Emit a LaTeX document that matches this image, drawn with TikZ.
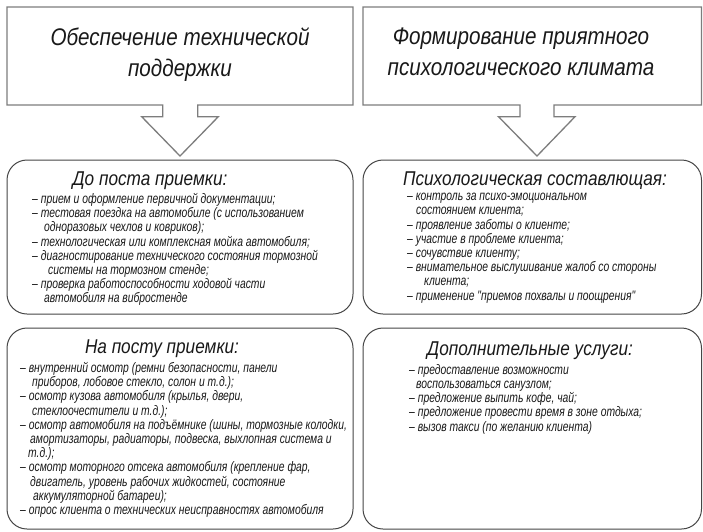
\documentclass[tikz,border=0pt]{standalone}
\usepackage{fontspec}
\setmainfont[FakeStretch=0.86]{Liberation Sans}
\newfontfamily\listfont[FakeStretch=0.75]{Liberation Sans}
\definecolor{topgray}{RGB}{125,125,125}
\definecolor{boxgray}{RGB}{70,70,70}
\definecolor{txt}{RGB}{25,25,25}
\begin{document}
\begin{tikzpicture}[x=1pt,y=-1pt,
  topbox/.style={draw=topgray, line width=1.3pt, line join=miter},
  roundbox/.style={draw=boxgray, line width=1pt, rounded corners=20pt},
  title/.style={font=\itshape\fontsize{24}{31}\selectfont, align=center, text=txt, inner sep=0pt},
  head/.style={font=\itshape\fontsize{20}{22}\selectfont, text=txt, inner sep=0pt},
  list/.style={font=\listfont\itshape\fontsize{13.8}{14.2}\selectfont, align=left, text=txt, inner sep=0pt, anchor=north west}]
\useasboundingbox (0,0) rectangle (703,531);
\fill[white] (0,0) rectangle (703,531);

% top boxes with block arrows
\coordinate (L) at (7,7);
\coordinate (R) at (363,7);
\draw[topbox] (7,105) -- (7,7) -- (353,7) -- (353,105) -- (197.7,105) -- (197.7,116.7) -- (218.3,116.7)
  -- (180,156) -- (141.7,116.7) -- (162.7,116.7) -- (162.7,105) -- cycle;
\draw[topbox] (363,105) -- (363,7) -- (701.5,7) -- (701.5,105) -- (554,105) -- (554,116.7) -- (575,116.7)
  -- (537,156) -- (498.5,116.7) -- (520,116.7) -- (520,105) -- cycle;

\node[title] (t1) at (180,55) {Обеспечение технической\\поддержки};
\node[title] (t2) at (521,52) {Формирование приятного\\психологического климата};

% rounded boxes
\draw[roundbox] (7,160) rectangle (353,314);
\draw[roundbox] (363,160) rectangle (701.5,314);
\draw[roundbox] (7,328) rectangle (353,529);
\draw[roundbox] (363,328) rectangle (701.5,529);

\node[head] (h1) at (150,181) {До поста приемки:};
\node[head] (h2) at (535,181) {Психологическая составлющая:};
\node[head] (h3) at (162,349) {На посту приемки:};
\node[head] (h4) at (530,351) {Дополнительные услуги:};

\node[list] (l1) at (32,193) {–~прием и оформление первичной документации;\\
–~тестовая поездка на автомобиле (с использованием\\
\hspace*{12pt}одноразовых чехлов и ковриков);\\
–~технологическая или комплексная мойка автомобиля;\\
–~диагностирование технического состояния тормозной\\
\hspace*{16pt}системы на тормозном стенде;\\
–~проверка работоспособности ходовой части\\
\hspace*{12pt}автомобиля на вибростенде};

\node[list] (l2) at (407,193) {–~контроль за психо-эмоциональном\\
\hspace*{9pt}состоянием клиента;\\
–~проявление заботы о клиенте;\\
–~участие в проблеме клиента;\\
–~сочувствие клиенту;\\
–~внимательное выслушивание жалоб со стороны\\
\hspace*{17pt}клиента;\\
–~применение "приемов похвалы и поощрения"};

\node[list] (l3) at (20,362) {–~внутренний осмотр (ремни безопасности, панели\\
\hspace*{12pt}приборов, лобовое стекло, солон и т.д.);\\
–~осмотр кузова автомобиля (крылья, двери,\\
\hspace*{12pt}стеклоочестители и т.д.);\\
–~осмотр автомобиля на подъёмнике (шины, тормозные колодки,\\
\hspace*{10pt}амортизаторы, радиаторы, подвеска, выхлопная система и\\
\hspace*{8pt}т.д.);\\
–~осмотр моторного отсека автомобиля (крепление фар,\\
\hspace*{10pt}двигатель, уровень рабочих жидкостей, состояние\\
\hspace*{13pt}аккумуляторной батареи);\\
–~опрос клиента о технических неисправностях автомобиля};

\node[list] (l4) at (409,364) {–~предоставление возможности\\
\hspace*{7pt}воспользоваться санузлом;\\
–~предложение выпить кофе, чай;\\
–~предложение провести время в зоне отдыха;\\
–~вызов такси (по желанию клиента)};
\end{tikzpicture}
\end{document}
